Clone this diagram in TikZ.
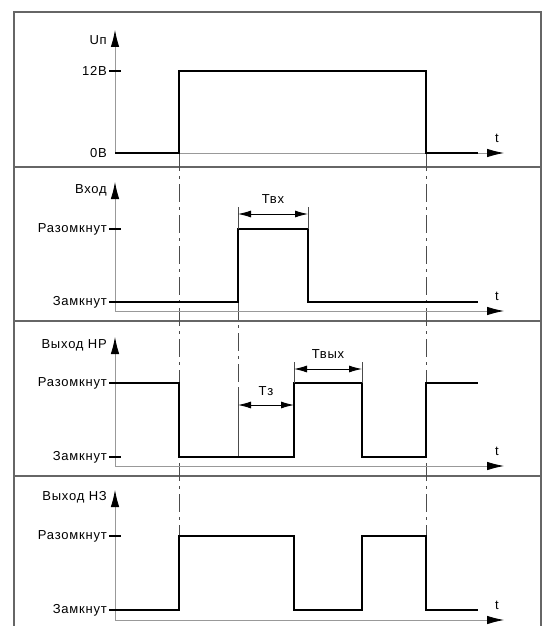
\documentclass[tikz,border=0pt]{standalone}
\usepackage{fontspec}
\setmainfont{Liberation Sans}[LetterSpace=6]
\usetikzlibrary{arrows.meta,positioning}
\tikzset{
  frame/.style={draw=black!60, line width=1.3pt},
  axis/.style={draw=black!40, line width=0.8pt, -{Latex[length=17pt,width=8.5pt,color=black]}},
  signal/.style={draw=black, line width=2.9pt},
  level/.style={draw=black, line width=2.4pt},
  edgeline/.style={draw=black!70, line width=0.7pt, dash pattern=on 18pt off 5pt on 3pt off 5pt},
  ext/.style={draw=black!70, line width=0.7pt},
  dim/.style={draw=black, line width=0.9pt, {Latex[length=13pt,width=7pt]}-{Latex[length=13pt,width=7pt]}},
  lbl/.style={anchor=east, inner sep=0pt, font=\fontsize{13}{15}\selectfont},
  tlbl/.style={inner sep=0pt, font=\fontsize{13}{15}\selectfont}
}

\begin{document}
\begin{tikzpicture}[x=1pt, y=-1pt]
  \useasboundingbox (0,0) rectangle (545,626);

  % frame and panel dividers
  \draw[frame] (14,626) -- (14,12) -- (541,12) -- (541,626);
  \draw[frame] (14,167) -- (541,167);
  \draw[frame] (14,321) -- (541,321);
  \draw[frame] (14,476) -- (541,476);

  % switching instants
  \draw[edgeline] (179,153) -- (179,536);
  \draw[edgeline] (426,153) -- (426,536);
  \draw[edgeline] (238,302) -- (238,390);
  \draw[ext] (238,390) -- (238,457);

  % supply voltage
  \coordinate (o1) at (115,153);
  \draw[axis] (o1) -- (115,30);
  \draw[axis] (o1) -- (504,153);
  \node[tlbl] (t1) at (497,138) {t};
  \node[lbl] (up) at (107,40) {Uп};
  \node[lbl] (v12) at (107,71) {12В};
  \node[lbl] (v0) at (107,153) {0В};
  \draw[level] (109,71) -- (121,71);
  \draw[signal] (o1) -- (179,153) -- (179,71) -- (426,71) -- (426,153) -- (478,153);

  % input
  \coordinate (o2) at (115,311);
  \draw[axis] (o2) -- (115,182);
  \draw[axis] (o2) -- (504,311);
  \node[tlbl] (t2) at (497,296) {t};
  \node[lbl] (in) at (107,190) {Вход};
  \node[lbl] (open2) at (107,229) {Разомкнут};
  \node[lbl] (closed2) at (107,302) {Замкнут};
  \draw[level] (109,229) -- (121,229);
  \draw[signal] (109,302) -- (238,302) -- (238,229) -- (308,229) -- (308,302) -- (478,302);
  \draw[ext] (238,229) -- (238,207);
  \draw[ext] (308,229) -- (308,207);
  \draw[dim] (238,214) -- (308,214);
  \node[tlbl] (tin) at (273,199) {Твх};

  % output NO
  \coordinate (o3) at (115,466);
  \draw[axis] (o3) -- (115,337);
  \draw[axis] (o3) -- (504,466);
  \node[tlbl] (t3) at (497,451) {t};
  \node[lbl] (outno) at (107,345) {Выход НР};
  \node[lbl] (open3) at (107,383) {Разомкнут};
  \node[lbl] (closed3) at (107,457) {Замкнут};
  \draw[level] (109,457) -- (121,457);
  \draw[signal] (109,383) -- (179,383) -- (179,457) -- (294,457) -- (294,383) -- (362,383)
    -- (362,457) -- (426,457) -- (426,383) -- (478,383);
  \draw[dim] (238,405) -- (294,405);
  \node[tlbl] (tdel) at (266,391) {Тз};
  \draw[ext] (294,383) -- (294,362);
  \draw[ext] (362,383) -- (362,362);
  \draw[dim] (294,369) -- (362,369);
  \node[tlbl] (tout) at (328,354) {Твых};

  % output NC
  \coordinate (o4) at (115,620);
  \draw[axis] (o4) -- (115,490);
  \draw[axis] (o4) -- (504,620);
  \node[tlbl] (t4) at (497,605) {t};
  \node[lbl] (outnc) at (107,497) {Выход НЗ};
  \node[lbl] (open4) at (107,536) {Разомкнут};
  \node[lbl] (closed4) at (107,610) {Замкнут};
  \draw[level] (109,536) -- (121,536);
  \draw[signal] (109,610) -- (179,610) -- (179,536) -- (294,536) -- (294,610) -- (362,610)
    -- (362,536) -- (426,536) -- (426,610) -- (478,610);
\end{tikzpicture}
\end{document}
